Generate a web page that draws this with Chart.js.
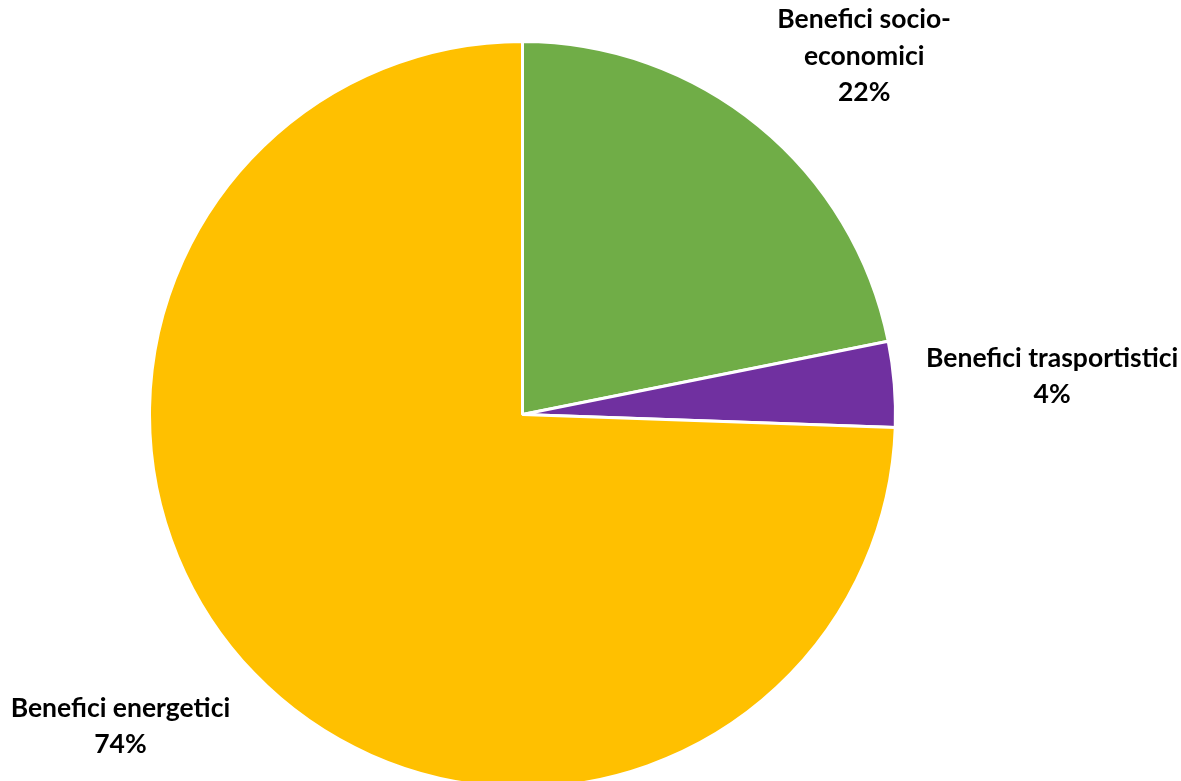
<!DOCTYPE html>
<html><head><meta charset="utf-8">
<script src="https://cdn.jsdelivr.net/npm/chart.js@4/dist/chart.umd.min.js"></script>
<style>
html,body{margin:0;padding:0;background:#fff;overflow:hidden;}
#wrap{width:1181px;height:790px;position:relative;}
</style></head>
<body><div id="wrap"><canvas id="c"></canvas></div>
<script>
const categories = [["Benefici socio-","economici"], ["Benefici trasportistici"], ["Benefici energetici"]];
const values = [21.85, 3.7, 74.45];
const colors = ["#70AD47", "#7030A0", "#FFC000"];

const labelPlugin = {
  id: 'sliceLabels',
  afterDatasetsDraw(chart, args, opts) {
    const ctx = chart.ctx;
    const meta = chart.getDatasetMeta(0);
    const total = values.reduce((a,b)=>a+b,0);
    meta.data.forEach((arc, i) => {
      const r = arc.outerRadius;
      const pos = opts.anchors[i];
      const x = arc.x + pos[0]*r, yc = arc.y + pos[1]*r;
      const lines = categories[i].concat([Math.round(values[i]/total*100) + '%']);
      ctx.save();
      ctx.font = 'bold ' + opts.size + 'px Lato, "Open Sans", sans-serif';
      ctx.fillStyle = '#000';
      ctx.textAlign = 'center';
      ctx.textBaseline = 'middle';
      const lh = opts.lineHeight;
      const y0 = yc - (lines.length-1)*lh/2;
      lines.forEach((t, k) => ctx.fillText(t, x, y0 + k*lh));
      ctx.restore();
    });
  }
};

new Chart(document.getElementById('c'), {
  type: 'pie',
  data: {
    labels: categories.map(c => c.join(' ')),
    datasets: [{ data: values, backgroundColor: colors, borderColor: '#fff', borderWidth: 3 }]
  },
  options: {
    responsive: true, maintainAspectRatio: false, animation: false,
    layout: { padding: { left: 148, right: 284, top: 40, bottom: 1 } },
    plugins: {
      legend: { display: false }, tooltip: { enabled: false },
      sliceLabels: { size: 26.5, lineHeight: 36.5, anchors: [[0.916, -0.96], [1.42, -0.102], [-1.078, 0.836]] }
    }
  },
  plugins: [labelPlugin]
});
</script></body></html>
